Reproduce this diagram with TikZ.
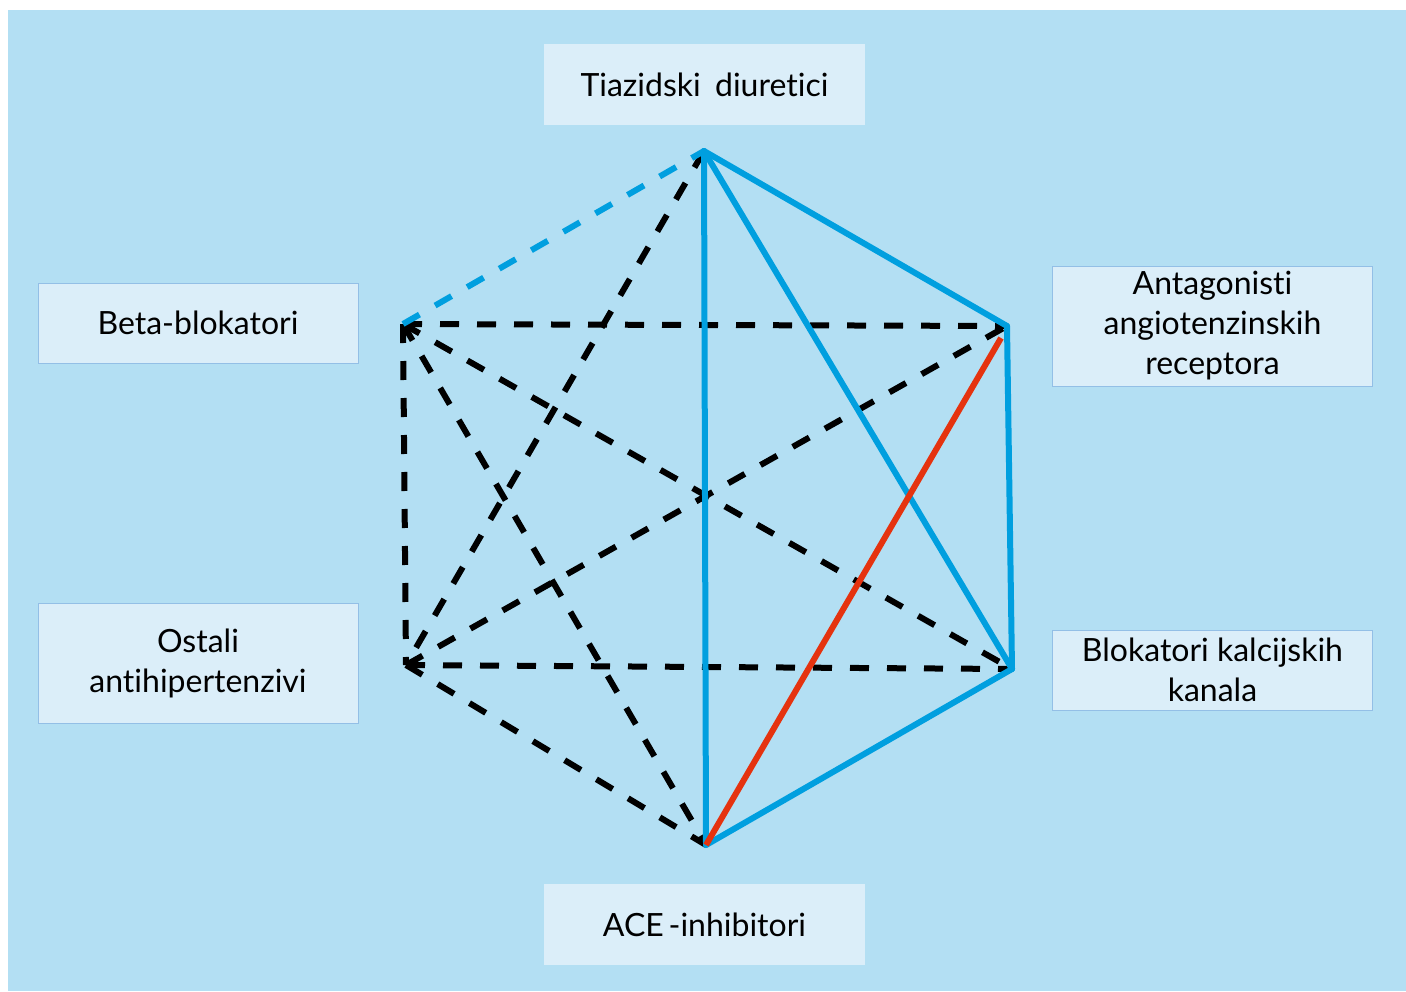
\documentclass[tikz,border=0pt]{standalone}
\usepackage{fontspec}
\setmainfont[Ligatures=NoCommon]{Lato}
\usepackage{xcolor}
\definecolor{pozadina}{HTML}{B3DFF3}
\definecolor{kutija}{HTML}{DBEEF9}
\definecolor{rub}{HTML}{93BFE6}
\definecolor{plava}{HTML}{009FDF}
\definecolor{crvena}{HTML}{E5330F}

\begin{document}
\begin{tikzpicture}[x=1pt,y=-1pt,
		lijek/.style={fill=kutija,minimum width=321pt,minimum height=81pt,align=center,
			inner sep=0pt,font=\fontsize{32}{40}\selectfont},
		okvir/.style={draw=rub,line width=1pt},
		puna/.style={line width=6pt,line cap=round,color=plava},
		crtkana/.style={line width=6pt,dash pattern=on 19pt off 18pt}]
		\useasboundingbox (0,0) rectangle (1406,991);
		\fill [color=pozadina] (8,10) rectangle (1406,991);
		%
		\node [lijek] (tiazidi) at (704.5,84.5) {Tiazidski\hspace{0.45em}diuretici};
		\node [lijek,okvir,minimum width=320pt,minimum height=80pt] (beta) at (198,323) {Beta-blokatori};
		\node [lijek,okvir,minimum width=320pt,minimum height=120pt] (antagonisti) at (1212.5,326) {Antagonisti\\angiotenzinskih\\receptora};
		\node [lijek,okvir,minimum width=320pt,minimum height=80pt] (blokatori) at (1212.5,670) {Blokatori kalcijskih\\kanala};
		\node [lijek,okvir,minimum width=320pt,minimum height=120pt] (ostali) at (198,663) {Ostali\\antihipertenzivi};
		\node [lijek] (ace) at (704.5,924.5) {ACE\hspace{0.15em}-inhibitori};
		%
		\coordinate (T) at (704,151);
		\coordinate (B) at (403,324);
		\coordinate (R) at (1007,326);
		\coordinate (R2) at (1001,338);
		\coordinate (O) at (406,665);
		\coordinate (C) at (1012,669);
		\coordinate (A) at (706,845);
		%
		\foreach \a/\b in {T/O,B/R,B/C,B/A,B/O,O/R,O/C,O/A}
			\draw [crtkana] (\a) -- (\b);
		\draw [crtkana,color=plava] (B) -- (T);
		\foreach \a/\b in {T/R,T/C,T/A,R/C,C/A}
			\draw [puna] (\a) -- (\b);
		\draw [puna,line cap=butt,color=crvena] (R2) -- (A);
	\end{tikzpicture}
\end{document}
